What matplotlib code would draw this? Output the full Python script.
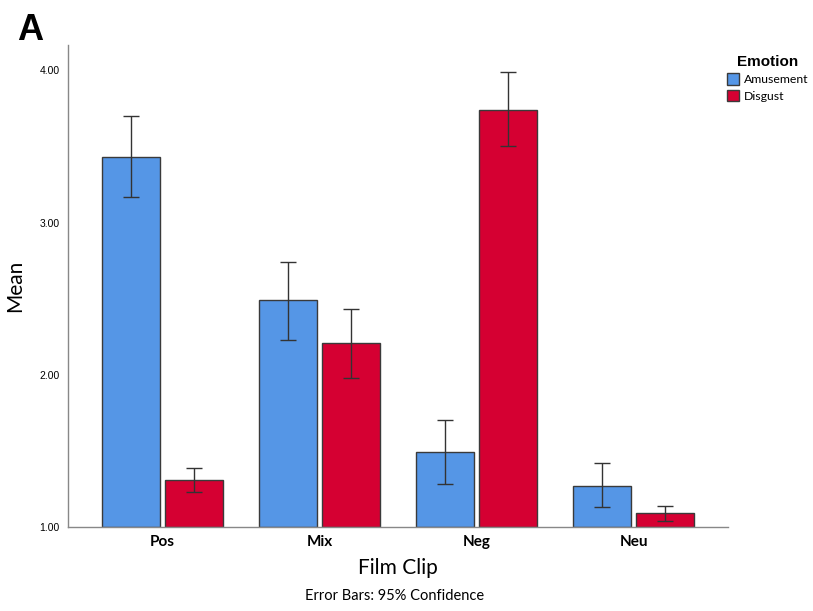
import numpy as np
import matplotlib.pyplot as plt

# Data
clips = ['Pos', 'Mix', 'Neg', 'Neu']
amusement = [3.43, 2.49, 1.49, 1.27]
amusement_lo = [3.17, 2.23, 1.28, 1.13]
amusement_hi = [3.70, 2.74, 1.70, 1.42]
disgust = [1.31, 2.21, 3.74, 1.09]
disgust_lo = [1.23, 1.98, 3.50, 1.04]
disgust_hi = [1.39, 2.43, 3.99, 1.14]

COLOR_AMUSE = '#5596E6'
COLOR_DISGUST = '#D50032'
COLOR_EDGE = '#3a3a3a'
COLOR_AXIS = '#888888'
BASE = 1.0

fig = plt.figure(figsize=(8.13, 6.11), dpi=100)
ax = fig.add_axes([0.0836, 0.1375, 0.812, 0.7885])

x = np.arange(len(clips))
w = 0.37
off = 0.2

for vals, lo, hi, color, shift, label in [
        (amusement, amusement_lo, amusement_hi, COLOR_AMUSE, -off, 'Amusement'),
        (disgust, disgust_lo, disgust_hi, COLOR_DISGUST, off, 'Disgust')]:
    vals = np.array(vals)
    heights = vals - BASE
    ax.bar(x + shift, heights, width=w, bottom=BASE, color=color,
           edgecolor=COLOR_EDGE, linewidth=1.0, label=label, zorder=2)
    yerr = np.vstack([vals - np.array(lo), np.array(hi) - vals])
    ax.errorbar(x + shift, vals, yerr=yerr, fmt='none', ecolor='#333333',
                elinewidth=1.0, capsize=6, capthick=1.0, zorder=3)

ax.set_xlim(-0.6, 3.6)
ax.set_ylim(1.0, 4.165)
ax.set_yticks([1.0, 2.0, 3.0, 4.0])
ax.set_yticklabels(['1.00', '2.00', '3.00', '4.00'],
                   fontsize=7.5, family='Liberation Sans')
ax.set_xticks(x)
ax.set_xticklabels(clips, fontsize=11, fontweight='bold', family='Lato')
ax.tick_params(axis='both', length=0)
ax.tick_params(axis='y', pad=6)
ax.tick_params(axis='x', pad=6)

for side in ['top', 'right']:
    ax.spines[side].set_visible(False)
for side in ['left', 'bottom']:
    ax.spines[side].set_color(COLOR_AXIS)
    ax.spines[side].set_linewidth(1.0)

ax.set_ylabel('Mean', fontsize=15, family='Lato', labelpad=10)
ax.set_xlabel('Film Clip', fontsize=15, family='Lato', labelpad=6)

fig.text(0.485, 0.018, 'Error Bars: 95% Confidence', ha='center',
         fontsize=10.5, family='Lato')
fig.text(0.021, 0.935, 'A', fontsize=26, fontweight='bold',
         family='Liberation Sans')

leg = ax.legend(loc='upper left', bbox_to_anchor=(0.881, 0.928),
                bbox_transform=fig.transFigure, frameon=False,
                title='Emotion', handlelength=1.0,
                handleheight=1.1, handletextpad=0.35, labelspacing=0.35,
                prop={'family': 'Lato', 'size': 8.8})
leg.get_title().set_fontweight('bold')
leg.get_title().set_fontsize(11)
leg.get_title().set_family('Liberation Sans')

fig.savefig('out.png', dpi=100)
